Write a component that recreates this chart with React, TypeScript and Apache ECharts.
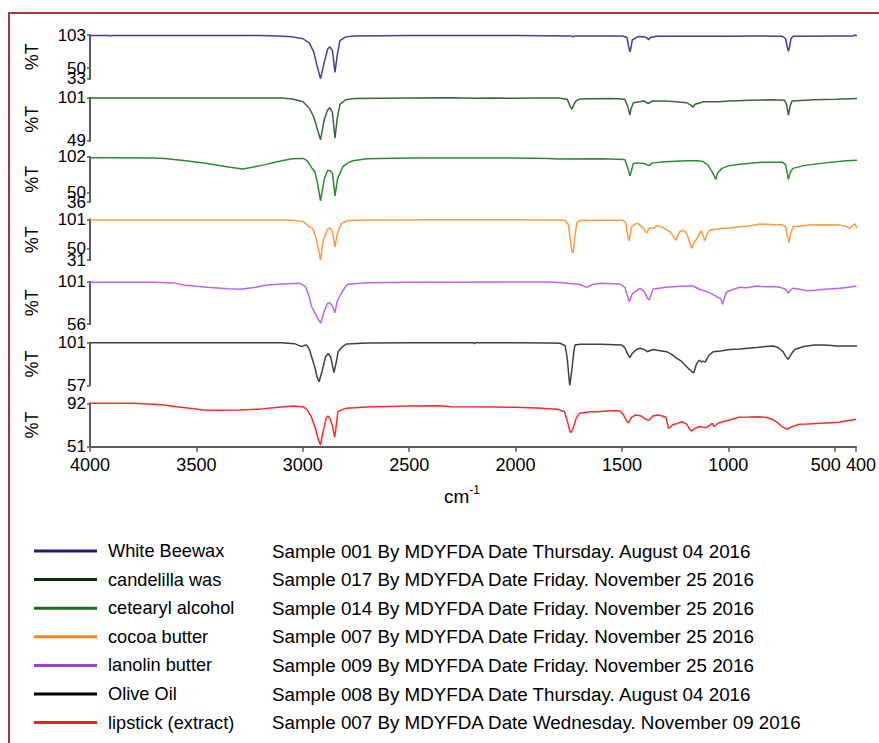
import React, { useEffect, useRef } from "react";
import * as echarts from "echarts";

const FONT = "Liberation Sans, Arial, Helvetica, sans-serif";

const names = ["White Beewax", "candelilla was", "cetearyl alcohol", "cocoa butter", "lanolin butter", "Olive Oil", "lipstick (extract)"];
const descriptions = [
  "Sample 001 By MDYFDA Date Thursday. August 04 2016",
  "Sample 017 By MDYFDA Date Friday. November 25 2016",
  "Sample 014 By MDYFDA Date Friday. November 25 2016",
  "Sample 007 By MDYFDA Date Friday. November 25 2016",
  "Sample 009 By MDYFDA Date Friday. November 25 2016",
  "Sample 008 By MDYFDA Date Thursday. August 04 2016",
  "Sample 007 By MDYFDA Date Wednesday. November 09 2016",
];
const legendColors = ["#1c1c7e", "#0e2e0e", "#1c6e1c", "#ff7f1e", "#9c40d8", "#000000", "#ff1a1a"];
const lineColors = ["#4040a4", "#3a663a", "#2e8a2e", "#ff9a40", "#c062f0", "#404040", "#ff2a2a"];

const xTicks = [4000, 3500, 3000, 2500, 2000, 1500, 1000, 500, 400];
const xLabelsMain = [4000, 3500, 3000, 2500, 2000, 1500, 1000, 500];
const xLabelsEnd = [400];
const yMins = [33, 49, 36, 31, 56, 57, 51];
const yMaxs = [103, 101, 102, 101, 101, 101, 92];
const yTicks = [[33, 50, 103], [49, 101], [36, 50, 102], [31, 50, 101], [56, 101], [57, 101], [51, 92]];

const beeswax = [[4000,102],[3910,102],[3906,101.3],[3900,102],[3400,102],[3200,102],[3120,101.5],[3050,100],[3000,97],[2970,90],[2950,76],[2935,55],[2918,33],[2900,60],[2885,80],[2874,84],[2862,78],[2850,43],[2840,70],[2827,94],[2800,100],[2760,101.5],[2500,102],[2100,102],[2000,102],[1740,101.5],[1733,100],[1725,101.5],[1500,101.5],[1480,99],[1472,85],[1466,76],[1462,80],[1455,95],[1430,100],[1400,100.5],[1385,98],[1378,95.5],[1370,99],[1340,101],[1000,101],[900,101.5],[750,101],[735,97],[728,85],[722,77],[716,85],[710,97],[700,101],[500,101.5],[420,101.5],[410,102.5],[400,102]];

const candelilla = [[4000,100.5],[3500,100.5],[3100,100.5],[3050,99.5],[3000,96],[2970,88],[2950,78],[2935,65],[2918,50],[2900,75],[2885,86],[2874,89],[2862,83],[2850,52],[2840,75],[2827,93],[2800,98.5],[2760,100],[2500,100.5],[2300,100.8],[2200,100.2],[2100,100.6],[2000,100.3],[1900,100.6],[1800,100.5],[1760,99],[1745,90],[1738,87],[1730,92],[1720,97],[1700,99.5],[1650,99.8],[1550,100],[1490,99],[1475,90],[1466,80],[1462,86],[1450,95],[1420,96],[1400,97],[1380,94],[1360,97],[1300,97],[1250,96],[1200,95],[1180,92],[1170,89.5],[1160,93],[1120,96],[1050,96],[1000,97],[900,98],[800,98.5],[740,98],[730,92],[722,80],[715,90],[705,97],[600,98.5],[500,99],[400,100]];

const cetearyl = [[4000,100.5],[3900,100.3],[3700,100],[3650,99.5],[3550,96],[3450,92],[3350,87],[3282,84],[3200,89],[3100,96],[3050,99],[3000,99.5],[2980,96],[2960,86],[2944,80],[2930,60],[2918,37.5],[2900,70],[2885,82],[2874,82],[2862,78],[2850,45],[2838,70],[2813,87.5],[2790,93],[2766,96],[2700,99],[2500,100],[2200,100],[2000,100],[1850,99.5],[1804,98.6],[1600,99],[1490,98],[1475,85],[1466,74],[1460,80],[1450,92],[1430,93],[1400,92],[1376,89],[1360,93],[1300,94.5],[1200,96],[1150,96],[1123,95],[1100,90],[1080,80],[1062,69],[1055,78],[1034,85],[1000,89],[950,91],[850,94],[750,94],[735,90],[722,69],[712,80],[701,85],[650,89],[550,93],[450,96],[400,97]];

const cocoa = [[4000,100],[3500,100],[3100,100],[3050,99.5],[3000,97],[2970,88],[2955,85.5],[2940,70],[2925,45],[2918,31],[2905,65],[2885,84],[2874,86],[2862,80],[2850,53],[2840,75],[2820,94],[2790,99],[2700,100],[2400,100.3],[2000,100.3],[1800,100],[1770,99],[1755,92],[1745,65],[1738,46],[1732,43],[1725,70],[1715,95],[1700,99],[1600,99.5],[1500,99.5],[1485,95],[1475,70],[1470,64],[1462,80],[1458,88],[1440,93],[1428,94],[1410,88],[1400,85],[1388,77],[1375,86],[1358,85],[1340,90],[1317,88],[1300,84],[1278,79.7],[1262,72],[1250,65],[1240,74],[1232,79.7],[1215,82],[1200,77],[1185,62],[1177,51],[1165,60],[1147,71],[1138,78],[1130,81],[1120,70],[1114,64],[1105,75],[1091,82.5],[1060,84],[1030,85.5],[1000,86],[950,88],[900,90],[856,93],[800,92],[750,91.5],[735,88],[725,70],[719,61],[712,75],[701,88],[650,90],[621,91],[550,91.5],[481,91],[450,89],[434,85.5],[420,90],[410,93],[400,86]];

const lanolin = [[4000,100.4],[3700,100.4],[3600,99.5],[3562,97.5],[3450,95],[3350,93.5],[3296,93],[3220,95],[3170,97.5],[3100,98.5],[3015,99.3],[2990,96],[2975,88],[2960,74.6],[2940,66],[2930,61],[2917,57],[2900,70],[2885,78],[2874,78.7],[2862,75],[2850,68],[2840,80],[2820,89],[2800,96],[2790,98.3],[2700,100],[2500,100.4],[2000,100.7],[1850,100.8],[1780,100],[1700,98],[1669,95],[1640,98],[1607,99.3],[1513,98.6],[1490,95],[1480,88],[1469,79.8],[1455,88],[1419,94],[1400,91],[1385,84],[1375,81.5],[1365,88],[1358,93],[1300,95],[1250,96],[1200,96.4],[1170,96.4],[1140,93],[1106,90.4],[1080,88],[1059,85],[1040,83],[1031,77],[1025,82],[1012,90],[980,93],[950,95],[920,94.5],[871,96.4],[830,95.5],[795,96],[760,95],[735,93],[723,89],[712,92],[701,94],[670,93],[637,91.5],[600,92],[550,93],[481,94],[440,95],[402,96.4],[400,96.4]];

const oliveOil = [[4000,101],[3500,101],[3100,101],[3040,100],[3007,97],[2995,98],[2983,98.6],[2970,94],[2960,86.5],[2945,76],[2935,66],[2925,60.7],[2910,72],[2895,86],[2882,90],[2870,86],[2855,70],[2845,80],[2835,91.7],[2815,97],[2795,99.7],[2700,100.6],[2500,101],[2200,101],[2195,100],[2190,101],[2000,101],[1850,100.8],[1794,100.4],[1770,98],[1760,85],[1752,65],[1748,57],[1740,70],[1730,90],[1724,98.6],[1700,99.5],[1600,99.5],[1505,98.6],[1490,96],[1478,90],[1466,85.5],[1455,90],[1435,94],[1419,95.2],[1400,94],[1385,91.7],[1370,93],[1357,94],[1330,93],[1294,91.7],[1270,89],[1247,85],[1225,82],[1208,78],[1190,74],[1175,71],[1166,70],[1155,78],[1145,82],[1138,83],[1130,81],[1122,82],[1112,81],[1106,83.8],[1095,88],[1075,91.7],[1040,92.5],[997,94],[950,94.5],[900,95.5],[871,96],[830,97],[794,97.6],[770,96],[760,94],[747,91.7],[735,87],[723,83.8],[715,87],[700,92],[692,94],[650,97],[600,98.6],[559,98.6],[520,98],[500,97.6],[450,97.6],[400,97.6]];

const lipstick = [[4000,92],[3800,92],[3700,91],[3650,90.5],[3593,88.8],[3520,87],[3468,85.7],[3400,85.5],[3296,85.7],[3200,86.5],[3139,87.9],[3046,89.5],[2999,88.8],[2980,86],[2960,79.4],[2940,68],[2930,60],[2917,52.6],[2905,65],[2890,78],[2882,80],[2870,77],[2860,70],[2850,59.9],[2842,72],[2835,84],[2815,86],[2795,87.3],[2700,88.5],[2500,89.5],[2358,89.7],[2300,88.8],[2100,88.5],[2000,88.3],[1900,87.5],[1800,86.3],[1770,84],[1755,74],[1745,66],[1740,64.2],[1730,68],[1715,78],[1700,82.5],[1650,84],[1622,84],[1550,85],[1513,85],[1495,82],[1480,76],[1469,73.7],[1455,79],[1435,81],[1410,80],[1390,77],[1372,76.2],[1355,80],[1333,81],[1310,80],[1294,78.8],[1285,72],[1282,68.4],[1270,70],[1263,71.5],[1240,73],[1216,74.6],[1195,72],[1180,67],[1172,66],[1160,68],[1138,69.9],[1120,69.5],[1106,69],[1090,71],[1075,73],[1067,69.9],[1055,72],[1044,73.7],[1000,76],[950,78.8],[900,79],[856,79.4],[820,78.5],[794,76.9],[770,74],[747,69.9],[735,68.5],[723,67.7],[700,70],[668,72.2],[630,72.5],[590,73],[540,73.5],[481,74],[440,75.5],[400,76.9]];

const spectra = [beeswax, candelilla, cetearyl, cocoa, lanolin, oliveOil, lipstick];

// layout (pixels)
const gridTops = [35, 97.7, 156.7, 219.3, 281.7, 342.7, 403.3];
const gridHeights = [43.7, 43, 45.3, 40.7, 42.3, 42.6, 43.4];
const legendTop = 551;
const legendStep = 28.6;

export default function App() {
  const ref = useRef<HTMLDivElement>(null);
  useEffect(() => {
    if (!ref.current) return;
    const chart = echarts.init(ref.current, null, { renderer: "svg" });
    const axisColor = "#5a5a5a";
    const fmt = (v: number) => String(v);
    const labelBase = { color: "#000", fontFamily: FONT, showMinLabel: true, showMaxLabel: true, hideOverlap: false };
    const grid = gridTops.map((t, i) => ({ left: 90, right: 22, top: t, height: gridHeights[i] }));
    const lastIdx = spectra.length - 1;
    const xAxis: any[] = spectra.map((_, i) => {
      const last = i === lastIdx;
      return {
        type: "value",
        gridIndex: i,
        min: 400,
        max: 4000,
        inverse: true,
        show: last,
        splitLine: { show: false },
        axisLine: { show: last, onZero: false, lineStyle: { color: axisColor, width: 2 } },
        axisTick: { show: last, customValues: xTicks, length: 5, lineStyle: { color: axisColor, width: 1.5 } },
        axisLabel: {
          ...labelBase,
          show: last,
          customValues: xLabelsMain,
          formatter: (v: number) => (v === 500 ? "{s|500}" : String(v)),
          rich: { s: { fontSize: 18, fontFamily: FONT, color: "#000", padding: [0, 18, 0, 0] } },
          fontSize: 18,
          margin: 9,
        },
        name: last ? "{a|cm}{b|-1}" : "",
        nameLocation: "middle",
        nameGap: 37,
        nameTextStyle: {
          color: "#000",
          fontFamily: FONT,
          padding: [0, 22, 0, 0],
          rich: {
            a: { fontSize: 19, color: "#000", fontFamily: FONT, verticalAlign: "bottom", lineHeight: 22 },
            b: { fontSize: 12, color: "#000", fontFamily: FONT, verticalAlign: "top", lineHeight: 22 },
          },
        },
      };
    });
    // secondary bottom axis carrying the end label "400"
    xAxis.push({
      type: "value",
      gridIndex: lastIdx,
      min: 400,
      max: 4000,
      inverse: true,
      position: "bottom",
      offset: 0,
      splitLine: { show: false },
      axisLine: { show: false },
      axisTick: { show: false },
      axisLabel: {
        ...labelBase,
        customValues: xLabelsEnd,
        formatter: (v: number) => "{e|" + v + "}",
        rich: { e: { fontSize: 18, fontFamily: FONT, color: "#000", padding: [0, 0, 0, 10] } },
        fontSize: 18,
        margin: 9,
      },
    });
    const yAxis: any[] = spectra.map((_, i) => ({
      type: "value",
      gridIndex: i,
      min: yMins[i],
      max: yMaxs[i],
      position: "left",
      splitLine: { show: false },
      axisLine: { show: true, lineStyle: { color: axisColor, width: 2 } },
      axisTick: { show: true, customValues: yTicks[i], length: 3, lineStyle: { color: axisColor, width: 1.5 } },
      axisLabel: {
        ...labelBase,
        customValues: [yMins[i], yMaxs[i]],
        formatter: fmt,
        fontSize: 17,
        margin: 4,
      },
      name: "%T",
      nameLocation: "middle",
      nameRotate: 90,
      nameGap: 49,
      nameTextStyle: { fontSize: 18, color: "#000", fontFamily: FONT },
    }));
    // secondary left axes carrying intermediate labels (e.g. "50")
    spectra.forEach((_, i) => {
      const mids = yTicks[i].filter((v) => v !== yMins[i] && v !== yMaxs[i]);
      if (!mids.length) return;
      yAxis.push({
        type: "value",
        gridIndex: i,
        min: yMins[i],
        max: yMaxs[i],
        position: "left",
        offset: 0,
        splitLine: { show: false },
        axisLine: { show: false },
        axisTick: { show: false },
        axisLabel: { ...labelBase, customValues: mids, formatter: fmt, fontSize: 17, margin: 4 },
      });
    });
    const series = spectra.map((d, i) => ({
      type: "line",
      name: names[i],
      xAxisIndex: i,
      yAxisIndex: i,
      data: d,
      showSymbol: false,
      symbol: "none",
      clip: false,
      lineStyle: { color: lineColors[i], width: 1.5 },
    }));
    const graphic: any[] = [
      { type: "line", shape: { x1: 8, y1: 13, x2: 879, y2: 13 }, style: { stroke: "#a23b36", lineWidth: 2 } },
      { type: "line", shape: { x1: 9, y1: 12, x2: 9, y2: 743 }, style: { stroke: "#a23b36", lineWidth: 2 } },
    ];
    names.forEach((n, i) => {
      const y = legendTop + i * legendStep;
      graphic.push({ type: "line", shape: { x1: 34, y1: y, x2: 97, y2: y }, style: { stroke: legendColors[i], lineWidth: 3 } });
      graphic.push({ type: "text", x: 108, y, style: { text: n, font: `18.2px ${FONT}`, fill: "#000", verticalAlign: "middle" } });
      graphic.push({ type: "text", x: 272, y, style: { text: descriptions[i], font: `18.8px ${FONT}`, fill: "#000", verticalAlign: "middle" } });
    });
    chart.setOption({
      animation: false,
      backgroundColor: "#fff",
      grid,
      xAxis,
      yAxis,
      series,
      graphic,
    });
    return () => chart.dispose();
  }, []);
  return <div ref={ref} style={{ position: "fixed", left: 0, top: 0, width: 879, height: 743 }} />;
}
